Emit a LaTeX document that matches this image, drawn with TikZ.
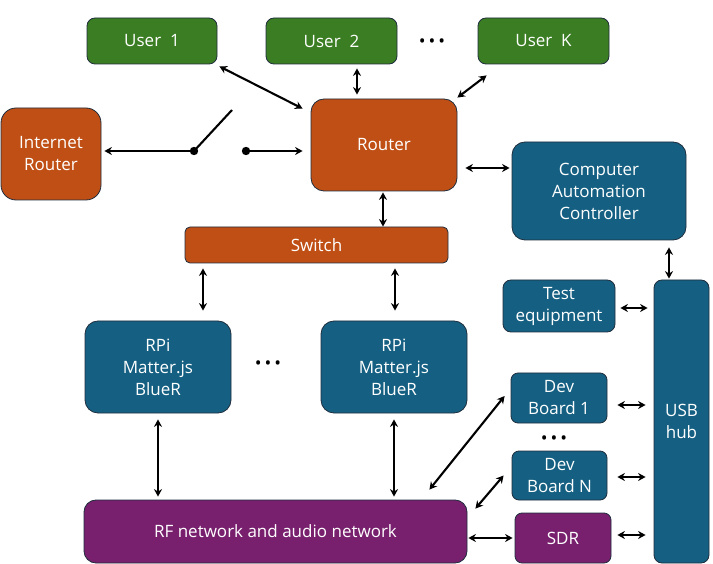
\documentclass[tikz,border=0pt]{standalone}
\usepackage{fontspec}
\setmainfont{Open Sans}
\usetikzlibrary{arrows.meta,calc}
\definecolor{ugreen}{HTML}{3B7D23}
\definecolor{uorange}{HTML}{C04F15}
\definecolor{ublue}{HTML}{156082}
\definecolor{upurple}{HTML}{78206E}
\definecolor{edge}{HTML}{1F2D3D}
\begin{document}
\begin{tikzpicture}[x=1pt,y=-1pt,
  box/.style={draw=edge, line width=0.8pt, rounded corners=#1, text=white, align=center,
    inner sep=0pt, font=\fontsize{17}{22}\selectfont},
  box/.default=10pt,
  conn/.style={line width=2.1pt, {Stealth[length=7.5pt,width=8pt]}-{Stealth[length=7.5pt,width=8pt]}},
  oneway/.style={line width=2.1pt, -{Stealth[length=7.5pt,width=8pt]}},
  plain/.style={line width=2.1pt},
  dotsx/.style={font=\fontsize{18}{18}\selectfont, inner sep=0pt}
]
\useasboundingbox (0,0) rectangle (713,564);
% top row
\node[box=8pt, fill=ugreen, minimum width=130pt, minimum height=46pt] (u1) at (152,41) {User\ \ 1};
\node[box=8pt, fill=ugreen, minimum width=131pt, minimum height=46pt] (u2) at (331.5,41) {User\ \ 2};
\node[box=8pt, fill=ugreen, minimum width=131pt, minimum height=46pt] (uk) at (543.5,41) {User\ \ K};
\node[dotsx] (dtop) at (432,43) {\textbullet\,\textbullet\,\textbullet};
% routers
\node[box=15pt, fill=uorange, minimum width=100pt, minimum height=92pt] (inet) at (51,154) {Internet\\Router};
\node[box=13pt, fill=uorange, minimum width=146pt, minimum height=92pt] (router) at (384,145) {Router};
\node[box=5pt, fill=uorange, minimum width=263pt, minimum height=36pt] (switch) at (316.5,245) {Switch};
\node[box=13pt, fill=ublue, minimum width=174pt, minimum height=98pt] (cac) at (599,191) {Computer\\Automation\\Controller};
% RPis
\node[box=13pt, fill=ublue, minimum width=146pt, minimum height=92pt] (rpi1) at (158,367) {RPi\\Matter.js\\BlueR};
\node[box=13pt, fill=ublue, minimum width=146pt, minimum height=92pt] (rpi2) at (394,367) {RPi\\Matter.js\\BlueR};
\node[dotsx] (dmid) at (268,365) {\textbullet\,\textbullet\,\textbullet};
\node[box=12pt, fill=upurple, minimum width=383pt, minimum height=63pt] (rf) at (275.5,531.5) {RF network and audio network};
% right column
\node[box=8pt, fill=ublue, minimum width=112pt, minimum height=52pt] (test) at (559,306) {Test\\equipment};
\node[box=8pt, fill=ublue, minimum width=55pt, minimum height=283pt] (usb) at (681.5,421.5) {USB\\hub};
\node[box=7pt, fill=ublue, minimum width=96pt, minimum height=50pt] (dev1) at (559,398) {Dev\\Board 1};
\node[dotsx] (dbot) at (554,440) {\textbullet\,\textbullet\,\textbullet};
\node[box=7pt, fill=ublue, minimum width=95pt, minimum height=49pt] (devn) at (559.5,475.5) {Dev\\Board N};
\node[box=7pt, fill=upurple, minimum width=96pt, minimum height=50pt] (sdr) at (563,538) {SDR};
% switch symbol
\coordinate (sw1) at (194,151);
\coordinate (sw2) at (246,151);
\coordinate (lever) at (232,110);
\draw[oneway, shorten >=3pt] (sw1) -- (sw1 -| inet.east);
\draw[plain] (sw1) -- (lever);
\draw[oneway, shorten >=8pt] (sw2) -- (sw2 -| router.west);
\fill (sw1) circle (4.2pt);
\fill (sw2) circle (4.2pt);
% connectors
\draw[conn] ($(u1.south east)+(2,2)$) -- ($(router.north west)+(-8,10)$);
\draw[conn, shorten <=4pt, shorten >=4pt] (u2.south -| 357,0) -- (router.north -| 357,0);
\draw[conn] ($(uk.south west)+(9,11)$) -- ($(router.north east)+(0,-1)$);
\draw[conn, shorten <=8pt, shorten >=2pt] (router.east |- 0,168) -- (cac.west |- 0,168);
\draw[conn, shorten <=1pt] (router.south -| 383,0) -- (switch.north -| 383,0);
\draw[conn, shorten <=5pt, shorten >=10pt] (switch.south -| 203,0) -- (rpi1.north -| 203,0);
\draw[conn, shorten <=5pt, shorten >=10pt] (switch.south -| 395,0) -- (rpi2.north -| 395,0);
\draw[conn, shorten <=6pt, shorten >=3pt] (rpi1.south) -- (rpi1.south |- rf.north);
\draw[conn, shorten <=6pt, shorten >=3pt] (rpi2.south) -- (rpi2.south |- rf.north);
\draw[conn, shorten <=7pt, shorten >=1pt] (cac.south -| 669,0) -- (usb.north -| 669,0);
\draw[conn, shorten <=5pt, shorten >=6pt] (test.east |- 0,308) -- (usb.west |- 0,308);
\draw[conn, shorten <=10pt, shorten >=8pt] (dev1.east |- 0,405) -- (usb.west |- 0,405);
\draw[conn, shorten <=10pt, shorten >=8pt] (devn.east |- 0,477) -- (usb.west |- 0,477);
\draw[conn, shorten <=6pt, shorten >=8pt] (sdr.east |- 0,535) -- (usb.west |- 0,535);
\draw[conn, shorten <=1pt, shorten >=2pt] (rf.east |- 0,538) -- (sdr.west |- 0,538);
\draw[conn] ($(dev1.west)+(-6,-2)$) -- ($(rf.north east)+(-38,-10)$);
\draw[conn] ($(devn.west)+(-8,0)$) -- ($(rf.north east)+(8,9)$);
\end{tikzpicture}
\end{document}
